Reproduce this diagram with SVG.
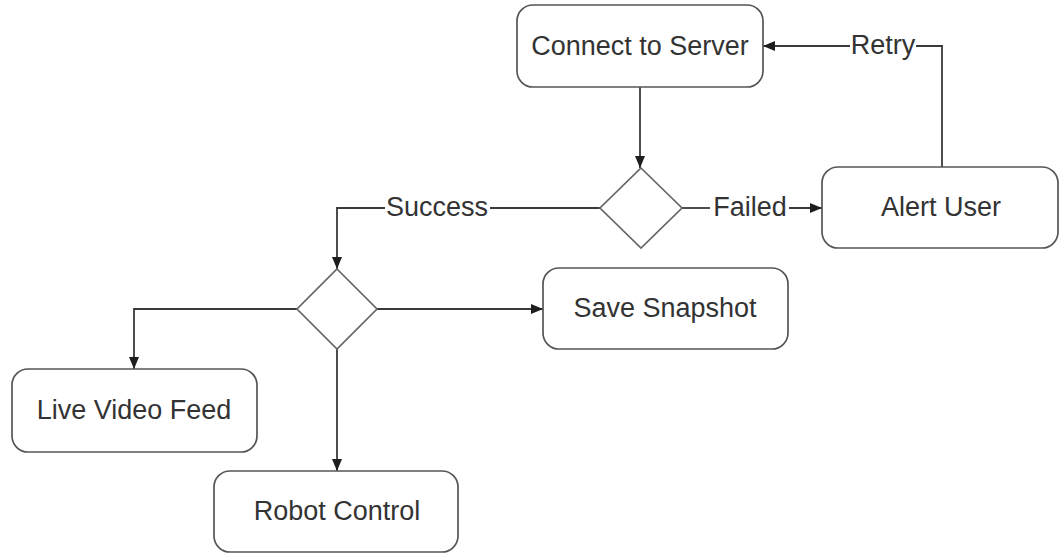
<svg xmlns="http://www.w3.org/2000/svg" width="1060" height="554" viewBox="0 0 1060 554">
<style>
.box{fill:#fff;stroke:#555;stroke-width:1.7}
.dia{fill:#fff;stroke:#666;stroke-width:1.7}
.edge{fill:none;stroke:#3a3a3a;stroke-width:1.8}
text{font-family:"Liberation Sans",Arial,sans-serif;font-size:27px;fill:#333;text-anchor:middle}
</style>
<defs>
<marker id="arr" markerUnits="userSpaceOnUse" markerWidth="13" markerHeight="11" refX="12" refY="5.5" orient="auto">
<path d="M0,0.5 L12,5.5 L0,10.5 z" fill="#1e1e1e"/>
</marker>
</defs>
<g id="connectors">
<path class="edge" d="M640,87 V168" marker-end="url(#arr)"/>
<path class="edge" d="M682,208 H710"/>
<path class="edge" d="M789,208 H822" marker-end="url(#arr)"/>
<path class="edge" d="M942,167 V46 H916"/>
<path class="edge" d="M850,46 H763" marker-end="url(#arr)"/>
<path class="edge" d="M600,208 H490"/>
<path class="edge" d="M385,208 H337 V269" marker-end="url(#arr)"/>
<path class="edge" d="M377,309 H543" marker-end="url(#arr)"/>
<path class="edge" d="M297,309 H134 V369" marker-end="url(#arr)"/>
<path class="edge" d="M337,349 V471" marker-end="url(#arr)"/>
<text x="883" y="54">Retry</text>
<text x="750" y="216">Failed</text>
<text x="437" y="216">Success</text>
</g>
<g id="connect">
<rect class="box" x="517" y="5" width="246" height="82" rx="16"/>
<text x="640" y="55">Connect to Server</text>
</g>
<g id="decision1">
<polygon class="dia" points="641,168 682,208 641,248 600,208"/>
</g>
<g id="alert">
<rect class="box" x="822" y="167" width="236" height="81" rx="16"/>
<text x="941" y="216">Alert User</text>
</g>
<g id="decision2">
<polygon class="dia" points="337,269 377,309 337,349 297,309"/>
</g>
<g id="save">
<rect class="box" x="543" y="268" width="245" height="81" rx="16"/>
<text x="665" y="317">Save Snapshot</text>
</g>
<g id="live">
<rect class="box" x="12" y="369" width="245" height="83" rx="16"/>
<text x="134" y="419">Live Video Feed</text>
</g>
<g id="robot">
<rect class="box" x="214" y="471" width="244" height="81" rx="16"/>
<text x="337" y="520">Robot Control</text>
</g>
</svg>
